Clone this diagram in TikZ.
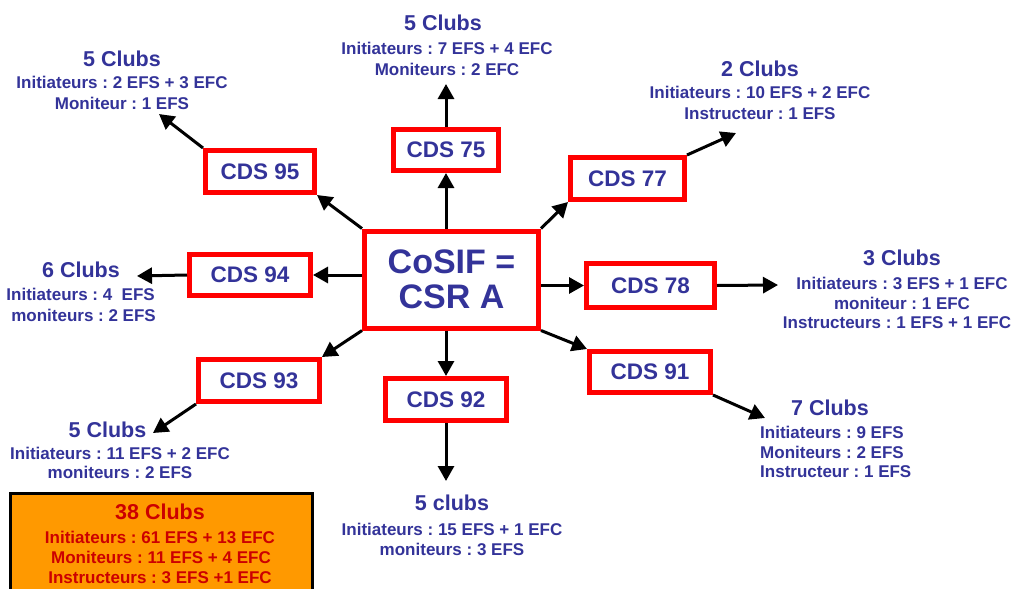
\documentclass[tikz,border=0pt]{standalone}
\usepackage{fontspec}
\setmainfont{Liberation Sans}
\usetikzlibrary{arrows.meta,calc}
\definecolor{txtblue}{HTML}{333399}
\definecolor{boxred}{HTML}{FF0000}
\definecolor{orangefill}{HTML}{FF9900}
\definecolor{darkred}{HTML}{CC0000}
\frenchspacing
\begin{document}
\begin{tikzpicture}[x=1pt,y=-1pt,
  cds/.style={draw=boxred,line width=5pt,inner sep=0pt,text=txtblue,
    font=\fontsize{22.5}{27}\selectfont\bfseries},
  ttl/.style={text=txtblue,inner sep=0pt,font=\fontsize{21.5}{25}\selectfont\bfseries},
  sub/.style={text=txtblue,inner sep=0pt,font=\fontsize{17}{20}\selectfont\bfseries},
  arr/.style={line width=3pt,-{Triangle[length=15pt,width=16pt]}}]
\useasboundingbox (0,0) rectangle (1015,589);
\fill[white] (0,0) rectangle (1015,589);

% central node
\node[cds,minimum width=174pt,minimum height=97pt,align=center,
  font=\fontsize{34}{35.5}\selectfont\bfseries] (cosif) at (451.5,279.5) {CoSIF =\\CSR A};

% CDS nodes
\node[cds,minimum width=109pt,minimum height=42pt] (cds95) at (260,171.5) {CDS 95};
\node[cds,minimum width=105pt,minimum height=41pt] (cds75) at (446,150) {CDS 75};
\node[cds,minimum width=114pt,minimum height=42pt] (cds77) at (627.5,178.5) {CDS 77};
\node[cds,minimum width=121pt,minimum height=41pt] (cds94) at (250,275) {CDS 94};
\node[cds,minimum width=128pt,minimum height=44pt] (cds78) at (650.5,285.5) {CDS 78};
\node[cds,minimum width=121pt,minimum height=42pt] (cds93) at (259,380.5) {CDS 93};
\node[cds,minimum width=121pt,minimum height=42pt] (cds92) at (446,399.5) {CDS 92};
\node[cds,minimum width=121pt,minimum height=41pt] (cds91) at (650,372) {CDS 91};

% free arrow ends
\coordinate (tip75) at (446,84);
\coordinate (tip95) at (159,114);
\coordinate (tip77) at (736,133);
\coordinate (tip94) at (137,276);
\coordinate (tip78) at (778,285);
\coordinate (tip93) at (153,433);
\coordinate (tip92) at (446,481);
\coordinate (tip91) at (765,418);

% arrows
\draw[arr] (cosif.north -| cds75) -- (cds75.south);
\draw[arr] (cds75.north) -- (tip75);
\draw[arr] (cosif.north west) -- (cds95.south east);
\draw[arr] (cds95.north west) -- (tip95);
\draw[arr] (cosif.north east) -- (cds77.south west);
\draw[arr] (cds77.north east) -- (tip77);
\draw[arr] (cosif.west |- cds94) -- (cds94.east);
\draw[arr] (cds94.west) -- (tip94);
\draw[arr] (cosif.east |- cds78) -- (cds78.west);
\draw[arr] (cds78.east) -- (tip78);
\draw[arr] (cosif.south west) -- (cds93.north east);
\draw[arr] (cds93.south west) -- (tip93);
\draw[arr] (cosif.south -| cds92) -- (cds92.north);
\draw[arr] (cds92.south) -- (tip92);
\draw[arr] (cosif.south east) -- (cds91.north west);
\draw[arr] (cds91.south east) -- (tip91);

% text blocks
\node[ttl] (t75a) at (443,23) {5 Clubs};
\node[sub] (t75b) at (447,48) {Initiateurs : 7 EFS + 4 EFC};
\node[sub] (t75c) at (447,69) {Moniteurs : 2 EFC};

\node[ttl] (t95a) at (122,59) {5 Clubs};
\node[sub] (t95b) at (122,82) {Initiateurs : 2 EFS + 3 EFC};
\node[sub] (t95c) at (122,103) {Moniteur : 1 EFS};

\node[ttl] (t77a) at (760,69) {2 Clubs};
\node[sub] (t77b) at (760,92) {Initiateurs : 10 EFS + 2 EFC};
\node[sub] (t77c) at (760,114) {Instructeur : 1 EFS};

\node[ttl] (t94a) at (81,270) {6 Clubs};
\node[sub,anchor=east] (t94b) at (155,294) {Initiateurs : 4\ \ EFS};
\node[sub,anchor=east] (t94c) at (156,315) {moniteurs : 2 EFS};

\node[ttl] (t78a) at (902,258) {3 Clubs};
\node[sub] (t78b) at (902,283) {Initiateurs : 3 EFS + 1 EFC};
\node[sub] (t78c) at (902,303) {moniteur : 1 EFC};
\node[sub] (t78d) at (897,323) {Instructeurs : 1 EFS + 1 EFC};

\node[ttl] (t93a) at (107.5,430) {5 Clubs};
\node[sub] (t93b) at (120,453) {Initiateurs : 11 EFS + 2 EFC};
\node[sub] (t93c) at (120,472) {moniteurs : 2 EFS};

\node[ttl] (t92a) at (452,503) {5 clubs};
\node[sub] (t92b) at (452,529) {Initiateurs : 15 EFS + 1 EFC};
\node[sub] (t92c) at (452,549) {moniteurs : 3 EFS};

\node[ttl] (t91a) at (830,408) {7 Clubs};
\node[sub,anchor=west] (t91b) at (760,432) {Initiateurs : 9 EFS};
\node[sub,anchor=west] (t91c) at (760,452) {Moniteurs : 2 EFS};
\node[sub,anchor=west] (t91d) at (760,472) {Instructeur : 1 EFS};

% total box
\node[draw=black,line width=3pt,fill=orangefill,minimum width=302pt,minimum height=110pt,
  inner sep=0pt,anchor=north west] (total) at (8.5,491.5) {};
\node[ttl,text=darkred] (tota) at (160,512) {38 Clubs};
\node[sub,text=darkred] (totb) at (160,537) {Initiateurs : 61 EFS + 13 EFC};
\node[sub,text=darkred] (totc) at (161,557) {Moniteurs : 11 EFS + 4 EFC};
\node[sub,text=darkred] (totd) at (160,578) {Instructeurs : 3 EFS +1 EFC};
\end{tikzpicture}
\end{document}
